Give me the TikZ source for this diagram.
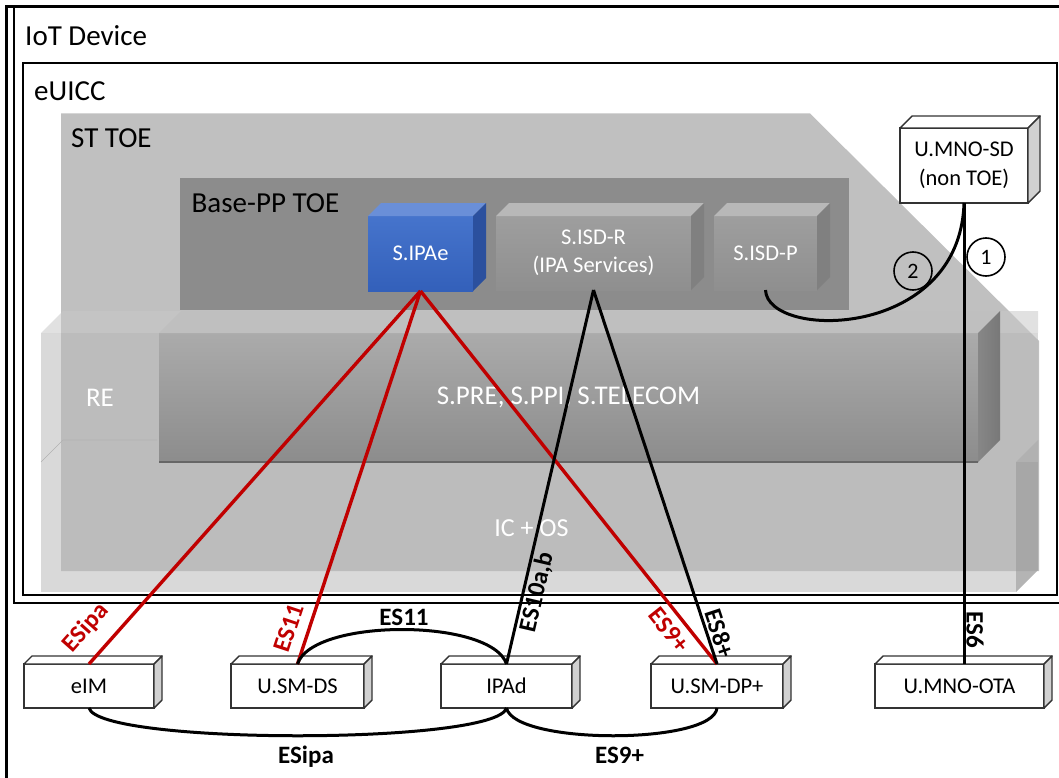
\documentclass[tikz,border=0pt]{standalone}
\usepackage{fontspec}
\setmainfont{Carlito}
\definecolor{esred}{HTML}{C00000}
\definecolor{sttoe}{HTML}{C0C0C0}
\definecolor{basepp}{HTML}{8C8C8C}
\definecolor{frameline}{HTML}{333333}
\definecolor{ipaetop}{HTML}{4674CC}
\definecolor{ipaebot}{HTML}{3360BA}
\definecolor{ipaelid}{HTML}{6A8FD8}
\definecolor{ipaeside}{HTML}{2B509E}

% side and top faces of a box whose front face is the node #1, depth #2
\newcommand{\prismfaces}[4]{%
  \path[#3] (#1.north west) -- ([shift={(#2pt,#2pt)}]#1.north west)
    -- ([shift={(#2pt,#2pt)}]#1.north east) -- (#1.north east) -- cycle;
  \path[#4] (#1.north east) -- ([shift={(#2pt,#2pt)}]#1.north east)
    -- ([shift={(#2pt,#2pt)}]#1.south east) -- (#1.south east) -- cycle;
}

\tikzset{
  biglabel/.style={inner sep=0pt, anchor=west, font=\fontsize{29}{34}\selectfont},
  frontbox/.style={inner sep=0pt, outer sep=0pt, align=center,
    font=\fontsize{22.5}{28.5}\selectfont},
  grayfront/.style={frontbox, text=white, top color=black!38, bottom color=black!44},
  whitebox/.style={frontbox, fill=white, draw=frameline, line width=1.4pt},
  whitetop/.style={fill=white, draw=frameline, line width=1.4pt, line join=round},
  whiteside/.style={fill=black!18, draw=frameline, line width=1.4pt, line join=round},
  platformtxt/.style={inner sep=0pt, text=white, font=\fontsize{27}{32}\selectfont},
  esbold/.style={inner sep=0pt, font=\fontsize{25}{30}\selectfont\bfseries},
  redline/.style={draw=esred, line width=3.4pt},
  blackline/.style={draw=black, line width=3pt},
  numcirc/.style={circle, draw=black, line width=1.6pt, fill=none, minimum size=38pt,
    inner sep=0pt, font=\fontsize{22}{26}\selectfont},
  layer/.style={fill=black!27, fill opacity=0.55},
  layertop/.style={fill=black!21, fill opacity=0.55},
}

\begin{document}
\begin{tikzpicture}[x=1pt,y=-1pt]
\useasboundingbox (0,0) rectangle (1059,778);

% nested frames: page frame, IoT device, eUICC
\draw[line width=3pt] (6.5,6.5) rectangle (1090,800);
\draw[line width=2pt] (13.5,7) rectangle (1085,602.5);
\draw[line width=2pt] (22.5,63) rectangle (1057,595);
\node[biglabel] (iotlbl) at (25,35.5) {IoT Device};
\node[biglabel] (euicclbl) at (34,91) {eUICC};

% ST TOE area with its cut corner
\fill[sttoe] (61,113.5) -- (810,113.5) -- (1039,341) -- (1039,571) -- (61,571) -- cycle;
\node[biglabel] (sttoelbl) at (71,138.5) {ST TOE};

% Base-PP TOE area
\fill[basepp] (180,178) rectangle (849,310);
\node[biglabel] (baselbl) at (191.5,203) {Base-PP TOE};

% components inside the Base-PP TOE
\node[frontbox, text=white, top color=ipaetop, bottom color=ipaebot,
      minimum width=105pt, minimum height=75pt] (ipae) at (420.5,253.5) {S.IPAe};
\prismfaces{ipae}{13}{fill=ipaelid}{fill=ipaeside}

\node[grayfront, minimum width=195pt, minimum height=74pt] (isdr) at (593.5,253) {S.ISD-R\\(IPA Services)};
\prismfaces{isdr}{13}{fill=black!28}{fill=black!50}

\node[grayfront, minimum width=103pt, minimum height=74pt] (isdp) at (765.5,253) {S.ISD-P};
\prismfaces{isdp}{13}{fill=black!28}{fill=black!50}

\node[whitebox, minimum width=128pt, minimum height=75pt] (mnosd) at (964,165.5) {U.MNO-SD\\(non TOE)};
\prismfaces{mnosd}{12}{whitetop}{whiteside}

% lower platform slab (IC + OS)
\fill[layer] (41,462) rectangle (1016,592);
\fill[fill=black!37, fill opacity=0.8] (1016,462) -- (1038,440) -- (1038,570) -- (1016,592) -- cycle;
\node[platformtxt, font=\fontsize{26}{30}\selectfont] (icos) at (531.5,528) {IC + OS};

% upper platform slab (RE)
\fill[layer] (41,333) rectangle (1038,462);
\fill[layertop] (41,333) -- (63,311) -- (1038,311) -- (1038,333) -- cycle;
\draw[black!30, line width=0.6pt] (41,462) -- (63,440) -- (157,440);
\node[platformtxt] (relbl) at (100,398) {RE};

% S.PRE / S.PPI / S.TELECOM block
\node[frontbox, text=white, font=\fontsize{27}{32}\selectfont, top color=black!33, bottom color=black!45,
      minimum width=819pt, minimum height=129pt] (spre) at (568.5,397.5) {S.PRE, S.PPI, S.TELECOM};
\prismfaces{spre}{22}{fill=black!25}{left color=black!47, right color=black!53}
\draw[black!60, line width=1.2pt] (spre.south west) -- (spre.south east);

% off-card entities
\node[whitebox, minimum width=130pt, minimum height=44pt] (eim) at (89,686) {eIM};
\prismfaces{eim}{8}{whitetop}{whiteside}
\node[whitebox, minimum width=133pt, minimum height=44pt] (smds) at (297.5,686) {U.SM-DS};
\prismfaces{smds}{8}{whitetop}{whiteside}
\node[whitebox, minimum width=131pt, minimum height=44pt] (ipad) at (506.5,686) {IPAd};
\prismfaces{ipad}{8}{whitetop}{whiteside}
\node[whitebox, minimum width=132pt, minimum height=44pt] (smdp) at (717,686) {U.SM-DP+};
\prismfaces{smdp}{8}{whitetop}{whiteside}
\node[whitebox, minimum width=169pt, minimum height=44pt] (mnoota) at (959.5,686) {U.MNO-OTA};
\prismfaces{mnoota}{8}{whitetop}{whiteside}

% interfaces of the IPAe
\draw[redline] (ipae.south) -- (eim.north);
\draw[redline] (ipae.south) -- (smds.north);
\draw[redline] (ipae.south) -- (smdp.north);
\node[esbold, text=esred, rotate=48.3] (lesipared) at (86,628) {ESipa};
\node[esbold, text=esred, rotate=71.7] (les11red) at (289,628) {ES11};
\node[esbold, text=esred, rotate=-51.5] (les9red) at (669,630) {ES9+};

% interfaces of the ISD-R
\draw[blackline] (isdr.south) -- (ipad.north);
\draw[blackline] (isdr.south) -- (smdp.north);
\node[esbold, rotate=76.9] (les10) at (537,592) {ES10a,b};
\node[esbold, rotate=-71.7] (les8) at (720,633) {ES8+};

% MNO security domain paths
\draw[blackline] (mnosd.south) -- (mnosd.south |- mnoota.north);
\draw[blackline] (isdp.south) .. controls +(2,50) and +(-4,137) .. (mnosd.south);
\node[esbold, rotate=-90] (les6) at (975,630) {ES6};
\node[numcirc] (c1) at (986,257) {1};
\node[numcirc] (c2) at (913,271) {2};

% interfaces between off-card entities
\draw[blackline] (smds.north) .. controls +(15,-46) and +(-15,-46) .. (ipad.north);
\draw[blackline] (eim.south) .. controls +(10,37) and +(-10,37) .. (ipad.south);
\draw[blackline] (ipad.south) .. controls +(8,37) and +(-4,37) .. (smdp.south);
\node[esbold] (les11) at (404,617) {ES11};
\node[esbold] (lesipa) at (306,757) {ESipa};
\node[esbold] (les9) at (619.5,755) {ES9+};
\end{tikzpicture}
\end{document}
